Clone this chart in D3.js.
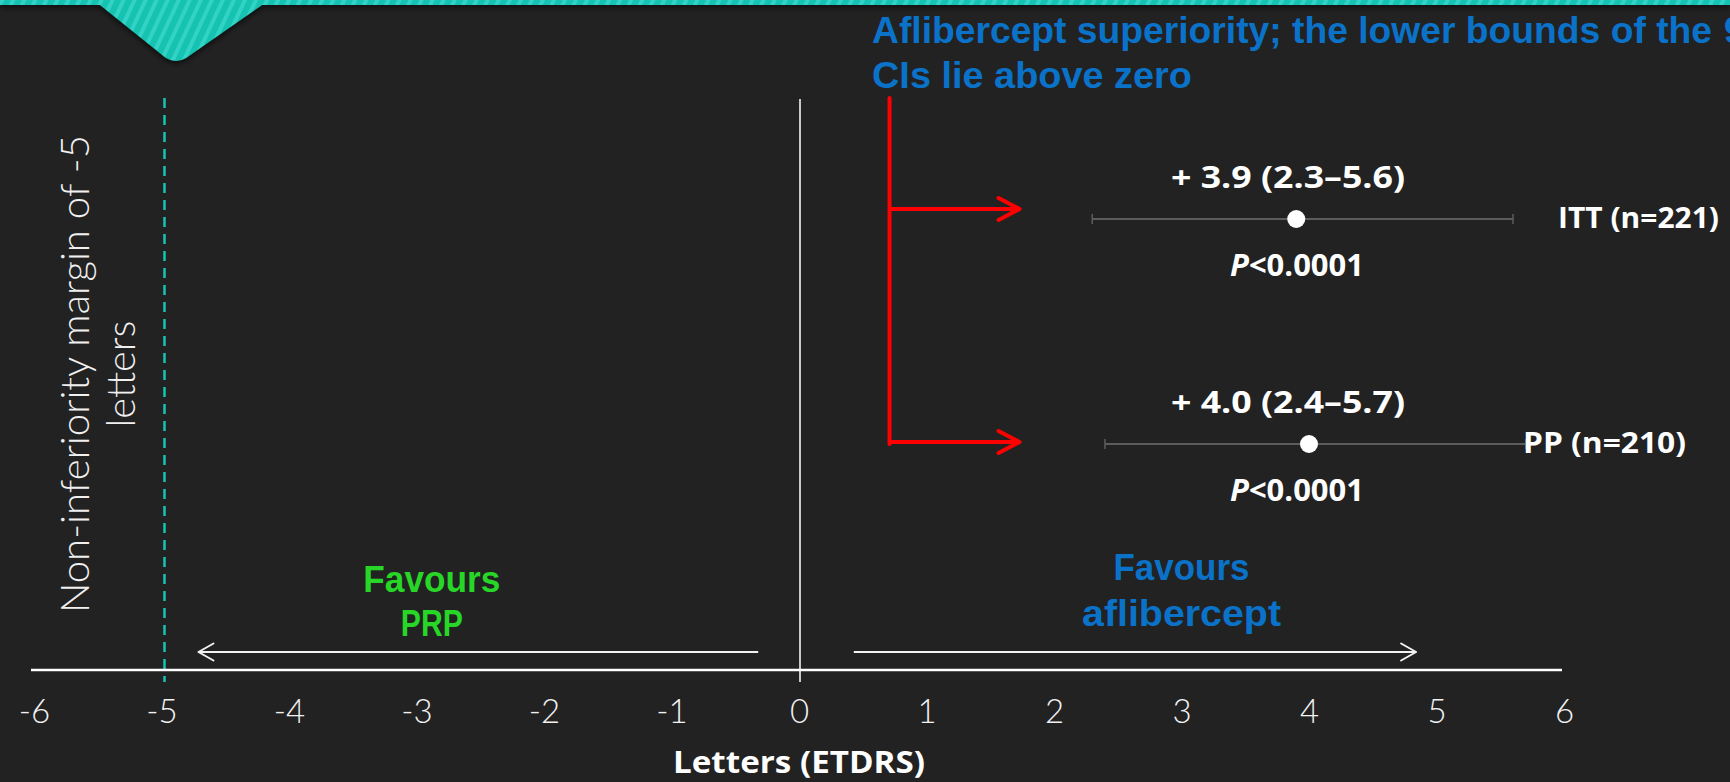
<!DOCTYPE html>
<html>
<head>
<meta charset="utf-8">
<script src="https://cdn.jsdelivr.net/npm/d3@7"></script>
<style>
  html, body { margin: 0; padding: 0; background: #222222; overflow: hidden; }
  svg { display: block; }
</style>
</head>
<body>
<svg id="chart" width="1730" height="782"></svg>
<script>
// Treatment difference in BCVA (letters) with 95% confidence intervals
const groups    = ["ITT (n=221)", "PP (n=210)"];
const estimates = [3.9, 4.0];
const lowerCI   = [2.3, 2.4];
const upperCI   = [5.6, 5.7];
const pLabels   = ["<0.0001", "<0.0001"];
const xTicks    = [-6, -5, -4, -3, -2, -1, 0, 1, 2, 3, 4, 5, 6];
const nonInferiorityMargin = -5;

const W = 1730, H = 782;
const BLUE = "#0a72c8", GREEN = "#27d627", TEAL = "#17c3b5", RED = "#ff0000";
const BOLD = "'Open Sans', 'Liberation Sans', sans-serif";
const BOLD2 = "'Liberation Sans', Arial, sans-serif";
const LIGHT = "Lato, 'Open Sans', sans-serif";

const svg = d3.select("#chart");

// ---- scales ----
const x = d3.scaleLinear().domain([-6, 6]).range([34, 1564]);
const y = d3.scalePoint().domain(groups).range([219, 444]);
const axisY = 670;

// ---- decorative header band ----
const defs = svg.append("defs");
const pat = defs.append("pattern")
  .attr("id", "stripes").attr("patternUnits", "userSpaceOnUse")
  .attr("width", 10).attr("height", 10)
  .attr("patternTransform", "rotate(25)");
pat.append("rect").attr("width", 10).attr("height", 10).attr("fill", "#16c2b0");
pat.append("rect").attr("width", 4).attr("height", 10).attr("fill", "#33d2c6");
const shadow = defs.append("filter").attr("id", "shadow")
  .attr("x", "-20%").attr("y", "-20%").attr("width", "140%").attr("height", "160%");
shadow.append("feDropShadow").attr("dx", 0).attr("dy", 2)
  .attr("stdDeviation", 3).attr("flood-color", "#000").attr("flood-opacity", 0.75);

const header = svg.append("g").attr("filter", "url(#shadow)");
header.append("rect").attr("x", 0).attr("y", 0).attr("width", W).attr("height", 5)
  .attr("fill", "url(#stripes)");
header.append("path")
  .attr("d", "M100,0 L262,0 L262,5 L186,58 Q176,64 166,58 L100,5 Z")
  .attr("fill", "url(#stripes)");

// ---- non-inferiority margin (dashed) ----
svg.append("line")
  .attr("x1", x(nonInferiorityMargin) + 3).attr("x2", x(nonInferiorityMargin) + 3)
  .attr("y1", 98).attr("y2", 682)
  .attr("stroke", TEAL).attr("stroke-width", 2.5)
  .attr("stroke-dasharray", "10 7");

// ---- zero line ----
svg.append("line")
  .attr("x1", x(0) + 1).attr("x2", x(0) + 1)
  .attr("y1", 99).attr("y2", 682)
  .attr("stroke", "#ffffff").attr("stroke-width", 1.5);

// ---- x axis ----
const axis = svg.append("g")
  .attr("transform", `translate(0,${axisY})`)
  .call(d3.axisBottom(x).tickValues(xTicks).tickSize(0).tickSizeOuter(0)
        .tickFormat(d => String(d)));
axis.select(".domain").remove();
axis.append("line")
  .attr("x1", x(-6) - 3).attr("x2", x(6) - 2).attr("y1", 0).attr("y2", 0)
  .attr("stroke", "#ffffff").attr("stroke-width", 2.5);
axis.selectAll(".tick text")
  .attr("y", 53).attr("dy", 0)
  .attr("fill", "#f2f2f2")
  .style("font-family", LIGHT).style("font-weight", 300).style("font-size", "33px");

svg.append("text")
  .attr("x", x(0)).attr("y", 773).attr("text-anchor", "middle")
  .attr("fill", "#ffffff")
  .attr("textLength", 252).attr("lengthAdjust", "spacingAndGlyphs")
  .style("font-family", BOLD).style("font-weight", 700).style("font-size", "31px")
  .text("Letters (ETDRS)");

// ---- direction arrows ----
function chevron(g, tipX, yy, dir, back, half, color, width) {
  g.append("path")
    .attr("d", `M${tipX + dir * back},${yy - half} L${tipX},${yy} L${tipX + dir * back},${yy + half}`)
    .attr("fill", "none").attr("stroke", color).attr("stroke-width", width)
    .attr("stroke-linecap", "round").attr("stroke-linejoin", "round");
}
const dirArrows = svg.append("g");
const favourY = 652;
// towards PRP
dirArrows.append("line").attr("x1", x(-0.32)).attr("x2", x(-4.71))
  .attr("y1", favourY).attr("y2", favourY).attr("stroke", "#f2f2f2").attr("stroke-width", 2.2);
chevron(dirArrows, x(-4.71), favourY, 1, 15, 8.5, "#f2f2f2", 2);
// towards aflibercept
dirArrows.append("line").attr("x1", x(0.43)).attr("x2", x(4.84))
  .attr("y1", favourY).attr("y2", favourY).attr("stroke", "#f2f2f2").attr("stroke-width", 2.2);
chevron(dirArrows, x(4.84), favourY, -1, 15, 8.5, "#f2f2f2", 2);

function label(txt, cx, by, color, len, size) {
  svg.append("text").attr("x", cx).attr("y", by).attr("text-anchor", "middle")
    .attr("fill", color).attr("textLength", len).attr("lengthAdjust", "spacingAndGlyphs")
    .style("font-family", BOLD2).style("font-weight", 700).style("font-size", size + "px")
    .text(txt);
}
label("Favours", x(-2.88), 592, GREEN, 137, 36);
label("PRP", x(-2.88), 636, GREEN, 62, 36);
label("Favours", x(3.0), 580, BLUE, 136, 36);
label("aflibercept", x(3.0), 626, BLUE, 199, 36);

// ---- vertical margin caption ----
const cap = svg.append("g").attr("fill", "#f0f0f0")
  .style("font-family", LIGHT).style("font-weight", 300).style("font-size", "39px");
cap.append("text").attr("transform", "translate(89,374) rotate(-90)")
  .attr("text-anchor", "middle").attr("textLength", 478).attr("lengthAdjust", "spacingAndGlyphs")
  .text("Non-inferiority margin of -5");
cap.append("text").attr("transform", "translate(135,374) rotate(-90)")
  .attr("text-anchor", "middle").attr("textLength", 107).attr("lengthAdjust", "spacingAndGlyphs")
  .text("letters");

// ---- superiority annotation ----
const titleStyle = sel => sel.attr("fill", BLUE)
  .style("font-family", BOLD2).style("font-weight", 700).style("font-size", "36px");
svg.append("text").attr("x", 872).attr("y", 43)
  .attr("textLength", 840).attr("lengthAdjust", "spacingAndGlyphs")
  .call(titleStyle)
  .text("Aflibercept superiority; the lower bounds of the");
svg.append("text").attr("x", 1724).attr("y", 43).call(titleStyle).text("95%");
svg.append("text").attr("x", 872).attr("y", 88)
  .attr("textLength", 320).attr("lengthAdjust", "spacingAndGlyphs")
  .call(titleStyle)
  .text("CIs lie above zero");

const bracket = svg.append("g");
const bracketX = x(0.71), arrowTip = x(1.73);
const arrowY = [y(groups[0]) - 10, y(groups[1]) - 2];
bracket.append("line").attr("x1", bracketX).attr("x2", bracketX)
  .attr("y1", 98).attr("y2", arrowY[1] + 2)
  .attr("stroke", RED).attr("stroke-width", 4).attr("stroke-linecap", "round");
arrowY.forEach(ay => {
  bracket.append("line").attr("x1", bracketX).attr("x2", arrowTip - 2)
    .attr("y1", ay).attr("y2", ay).attr("stroke", RED).attr("stroke-width", 4);
  chevron(bracket, arrowTip, ay, -1, 21, 11, RED, 4);
});

// ---- estimates with 95% CIs ----
const rows = groups.map((g, i) => ({
  group: g, est: estimates[i], lo: lowerCI[i], hi: upperCI[i], p: pLabels[i]
}));
const rowG = svg.selectAll(".row").data(rows).join("g").attr("class", "row");

rowG.append("line")
  .attr("x1", d => x(d.lo)).attr("x2", d => x(d.hi))
  .attr("y1", d => y(d.group)).attr("y2", d => y(d.group))
  .attr("stroke", "#5c5c5c").attr("stroke-width", 2);
["lo", "hi"].forEach(k => {
  rowG.append("line")
    .attr("x1", d => x(d[k])).attr("x2", d => x(d[k]))
    .attr("y1", d => y(d.group) - 5).attr("y2", d => y(d.group) + 5)
    .attr("stroke", "#5c5c5c").attr("stroke-width", 1.5);
});
rowG.append("circle")
  .attr("cx", d => x(d.est)).attr("cy", d => y(d.group)).attr("r", 9)
  .attr("fill", "#ffffff");

const fmt = d3.format(".1f");
rowG.append("text")
  .attr("x", 1288).attr("y", d => y(d.group) - 31).attr("text-anchor", "middle")
  .attr("fill", "#ffffff").attr("textLength", 234).attr("lengthAdjust", "spacingAndGlyphs")
  .style("font-family", BOLD).style("font-weight", 700).style("font-size", "30px")
  .text(d => `+ ${fmt(d.est)} (${fmt(d.lo)}\u2013${fmt(d.hi)})`);

const pText = rowG.append("text")
  .attr("x", 1297).attr("y", d => y(d.group) + 57).attr("text-anchor", "middle")
  .attr("fill", "#ffffff").attr("textLength", 134).attr("lengthAdjust", "spacingAndGlyphs")
  .style("font-family", BOLD).style("font-weight", 700).style("font-size", "30px");
pText.append("tspan").style("font-style", "italic").text("P");
pText.append("tspan").text(d => d.p);

const labelX = [1558, 1523];
rowG.append("text")
  .attr("x", (d, i) => labelX[i]).attr("y", d => y(d.group) + 9)
  .attr("fill", "#ffffff").attr("textLength", (d, i) => i === 0 ? 161 : 163)
  .attr("lengthAdjust", "spacingAndGlyphs")
  .style("font-family", BOLD).style("font-weight", 700).style("font-size", "29px")
  .text(d => d.group);
</script>
</body>
</html>
